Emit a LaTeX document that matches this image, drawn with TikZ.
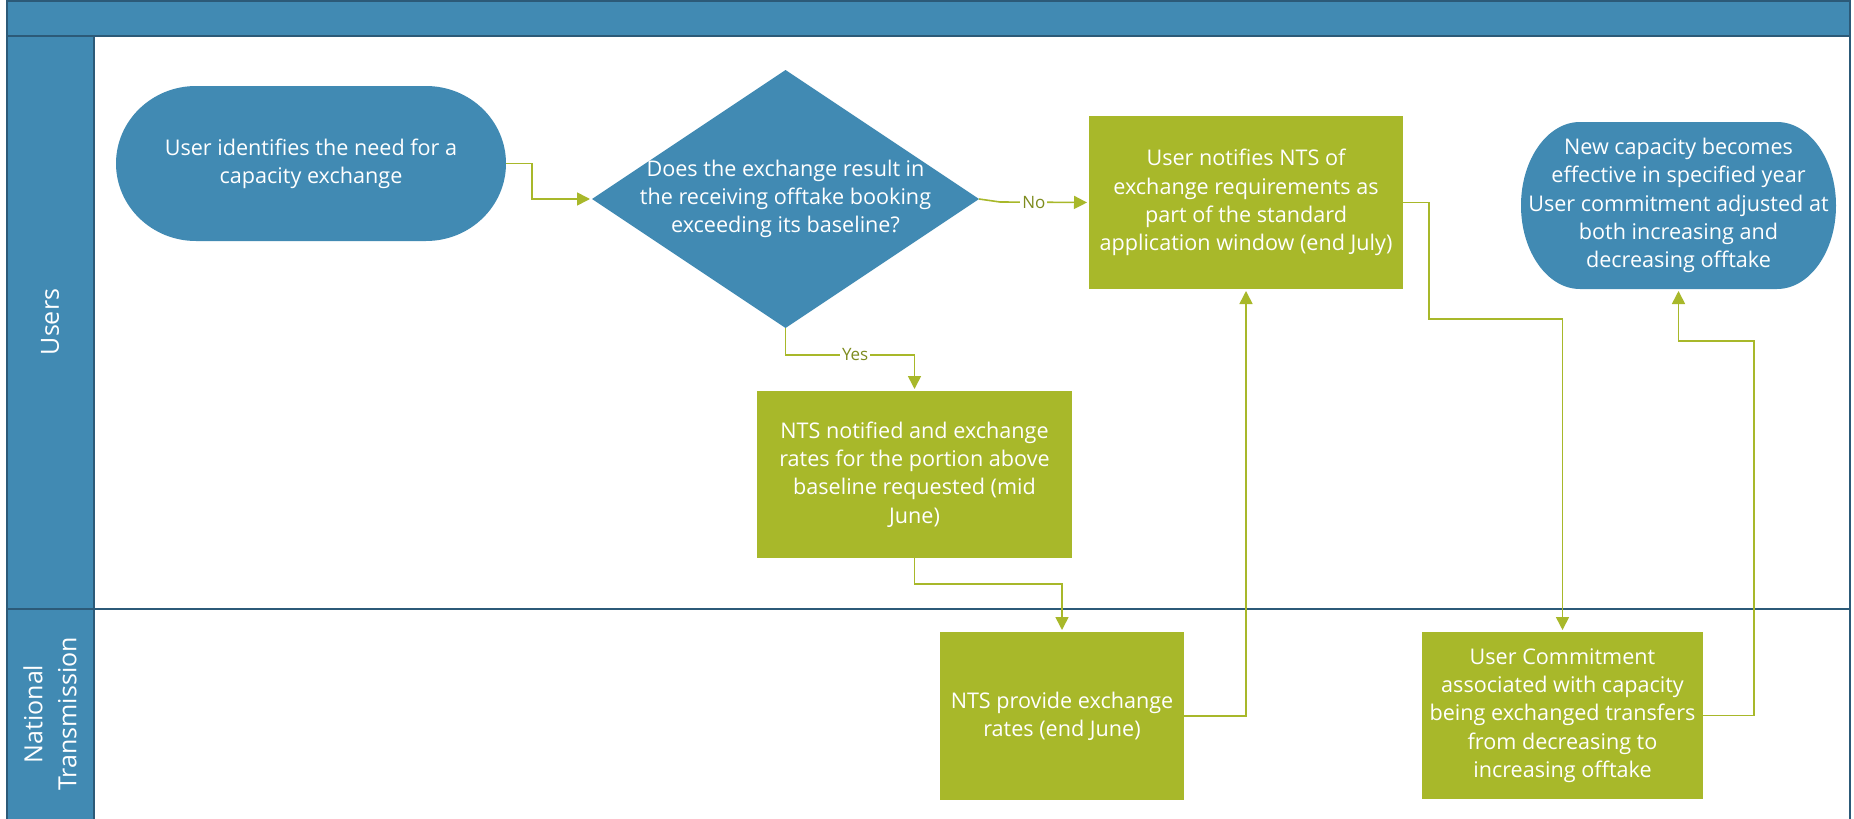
\documentclass[tikz,border=0pt]{standalone}
\usepackage{fontspec}
\setmainfont{Open Sans}
\usetikzlibrary{arrows.meta,backgrounds,calc}
\definecolor{lblue}{HTML}{418AB3}
\definecolor{lgreen}{HTML}{A8B82A}
\definecolor{lborder}{HTML}{2C5A78}
\definecolor{lbltxt}{HTML}{7E8C1E}
\begin{document}
\begin{tikzpicture}[x=0.5pt,y=-0.5pt,
  every node/.style={inner sep=0pt, outer sep=0pt},
  boxtext/.style={text=white, align=center, font=\fontsize{10.8}{14.1}\selectfont},
  procbox/.style={boxtext, fill=lgreen, rectangle},
  termnode/.style={boxtext},
  decnode/.style={boxtext},
  conn/.style={draw=lgreen, line width=0.8pt, -{Triangle[length=6.5pt,width=6.5pt]}, shorten >=1pt},
  lbl/.style={fill=white, text=lbltxt, font=\fontsize{8.5}{10}\selectfont, inner sep=1pt},
  lanetext/.style={text=white, align=center, font=\fontsize{12.5}{17}\selectfont, rotate=90},
  frameline/.style={draw=lborder, line width=1pt}
]
\useasboundingbox (0,0) rectangle (1854,819);
\clip (0,0) rectangle (1854,819);

\begin{pgfonlayer}{background}
\fill[white] (0,0) rectangle (1854,819);
\path[fill=lblue, frameline] (7,1) rectangle (1850,36);
\path[fill=lblue, frameline] (7,36) rectangle (94,830);
\draw[frameline] (7,609) -- (1850,609);
\draw[frameline] (1850,0) -- (1850,830);
\end{pgfonlayer}

% lane labels
\node[lanetext] (laneU) at (50,322) {Users};
\node[lanetext] (laneN) at (50,714) {National\\Transmission};

% nodes
\node[termnode, minimum width=195pt, minimum height=77.5pt] (t1) at (311,163.5) {User identifies the need for a\\capacity exchange};
\node[decnode, minimum width=193.5pt, minimum height=129pt] (d) at (785.5,199) {Does the exchange result in\\the receiving offtake booking\\exceeding its baseline?};
\node[procbox, minimum width=157pt, minimum height=86.5pt] (n1) at (1246,202.5) {User notifies NTS of\\exchange requirements as\\part of the standard\\application window (end July)};
\node[termnode, minimum width=157.5pt, minimum height=83.5pt] (t2) at (1678.5,205.5) {New capacity becomes\\effective in specified year\\User commitment adjusted at\\both increasing and\\decreasing offtake};
\node[procbox, minimum width=157.5pt, minimum height=83.5pt] (n2) at (914.5,474.5) {NTS notified and exchange\\rates for the portion above\\baseline requested (mid\\June)};
\node[procbox, minimum width=122pt, minimum height=84pt] (n3) at (1062,716) {NTS provide exchange\\rates (end June)};
\node[procbox, minimum width=140.5pt, minimum height=83.5pt] (n4) at (1562.5,715.5) {User Commitment\\associated with capacity\\being exchanged transfers\\from decreasing to\\increasing offtake};

% shapes behind text
\begin{pgfonlayer}{background}
\fill[lblue] ([xshift=40pt]t1.north west) -- ([xshift=-40pt]t1.north east)
  arc[start angle=90, end angle=-90, x radius=40pt, y radius=38.75pt]
  -- ([xshift=40pt]t1.south west)
  arc[start angle=270, end angle=90, x radius=40pt, y radius=38.75pt] -- cycle;
\fill[lblue] ([xshift=29.5pt]t2.north west) -- ([xshift=-29.5pt]t2.north east)
  arc[start angle=90, end angle=-90, x radius=29.5pt, y radius=41.75pt]
  -- ([xshift=29.5pt]t2.south west)
  arc[start angle=270, end angle=90, x radius=29.5pt, y radius=41.75pt] -- cycle;
\fill[lblue] (d.north) -- (d.east) -- (d.south) -- (d.west) -- cycle;
\end{pgfonlayer}

% connectors
\coordinate (c1) at (1429,319);
\coordinate (c3) at (1754,341);
\draw[conn] (t1.east) -- ++(26,0) |- (d.west);
\draw[conn] (d.east) -- ++(21,3) -- node[lbl,pos=0.38]{No} (n1.west);
\draw[conn] (d.south) -- ++(0,27) -| node[lbl,pos=0.27]{Yes} (n2.north);
\draw[conn] (n2.south) -- ++(0,26) -| (n3.north);
\draw[conn] (n3.east) -| (n1.south);
\draw[conn] (n1.east) -| (c1) -| (n4.north);
\draw[conn] (n4.east) -| (c3) -| (t2.south);
\end{tikzpicture}
\end{document}
